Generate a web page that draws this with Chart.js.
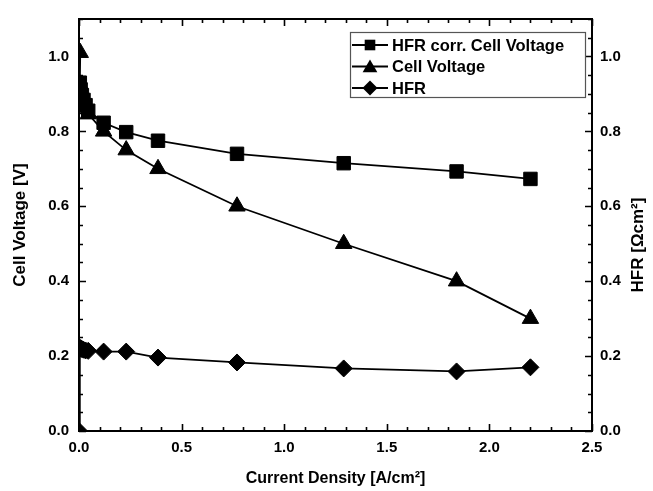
<!DOCTYPE html>
<html><head><meta charset="utf-8">
<script src="https://cdn.jsdelivr.net/npm/chart.js@4.4.0/dist/chart.umd.min.js"></script>
<style>html,body{margin:0;padding:0;background:#fff}#c{display:block}</style>
</head><body>
<canvas id="c" width="653" height="491"></canvas>
<script>
// Current density [A/cm2]
const corrCurrent = [0.004, 0.008, 0.014, 0.022, 0.032, 0.045, 0.12, 0.23, 0.385, 0.77, 1.29, 1.84, 2.2];
const corrVoltage = [0.930, 0.912, 0.897, 0.884, 0.870, 0.855, 0.823, 0.798, 0.775, 0.74, 0.715, 0.693, 0.673];

const cellCurrent = [0.006, 0.004, 0.008, 0.014, 0.022, 0.032, 0.045, 0.12, 0.23, 0.385, 0.77, 1.29, 1.84, 2.2];
const cellVoltage = [1.01, 0.926, 0.908, 0.893, 0.879, 0.864, 0.846, 0.80, 0.75, 0.70, 0.60, 0.50, 0.40, 0.30];

const hfrCurrent = [0.0, 0.004, 0.008, 0.014, 0.022, 0.032, 0.045, 0.12, 0.23, 0.385, 0.77, 1.29, 1.84, 2.2];
const hfrValue   = [0.0, 0.222, 0.221, 0.219, 0.217, 0.215, 0.214, 0.212, 0.212, 0.196, 0.183, 0.167, 0.159, 0.170];

const xTicks = [0.0, 0.5, 1.0, 1.5, 2.0, 2.5];
const yTicks = [0.0, 0.2, 0.4, 0.6, 0.8, 1.0];

const seriesLabels = ['HFR corr. Cell Voltage', 'Cell Voltage', 'HFR'];
const seriesStyles = ['rect', 'triangle', 'rectRot'];

const FONT = '"Liberation Sans", Arial, Helvetica, sans-serif';

function pts(xs, ys){ return xs.map((x,i)=>({x:x, y:ys[i]})); }

function drawMarker(ctx, style, x, y, r){
  ctx.beginPath();
  if (style === 'rect'){
    const s = Math.SQRT1_2 * r;
    ctx.rect(x - s, y - s, 2*s, 2*s);
  } else if (style === 'triangle'){
    let rad = 0;
    ctx.moveTo(x + Math.sin(rad)*r, y - Math.cos(rad)*r);
    rad += 2*Math.PI/3;
    ctx.lineTo(x + Math.sin(rad)*r, y - Math.cos(rad)*r);
    rad += 2*Math.PI/3;
    ctx.lineTo(x + Math.sin(rad)*r, y - Math.cos(rad)*r);
    ctx.closePath();
  } else {
    ctx.moveTo(x - r, y); ctx.lineTo(x, y - r); ctx.lineTo(x + r, y); ctx.lineTo(x, y + r);
    ctx.closePath();
  }
  ctx.fill();
}

const framePlugin = {
  id: 'frame',
  afterDatasetsDraw(chart){
    const ctx = chart.ctx, a = chart.chartArea;
    const xs = chart.scales.x, ys = chart.scales.y;
    ctx.save();
    ctx.strokeStyle = '#000';
    ctx.lineWidth = 2;
    ctx.strokeRect(a.left, a.top, a.right - a.left, a.bottom - a.top);
    ctx.lineWidth = 1.6;
    ctx.beginPath();
    for (let i = 0; i <= 25; i++){
      const v = i / 10;
      const px = Math.round(xs.getPixelForValue(v)) + 0.5;
      const len = (i % 5 === 0) ? 7 : 4;
      ctx.moveTo(px, a.bottom); ctx.lineTo(px, a.bottom - len);
      ctx.moveTo(px, a.top); ctx.lineTo(px, a.top + len);
    }
    for (let i = 0; i <= 22; i++){
      const v = i * 0.05;
      const py = Math.round(ys.getPixelForValue(v)) + 0.5;
      const len = (i % 4 === 0) ? 7 : 4;
      ctx.moveTo(a.left, py); ctx.lineTo(a.left + len, py);
      ctx.moveTo(a.right, py); ctx.lineTo(a.right - len, py);
    }
    ctx.stroke();

    // legend
    const bx = 350, by = 32, bw = 235, bh = 65;
    ctx.fillStyle = '#fff';
    ctx.fillRect(bx, by, bw, bh);
    ctx.lineWidth = 1.2;
    ctx.strokeStyle = '#555';
    ctx.strokeRect(bx + 0.5, by + 0.5, bw, bh);
    const rows = [45, 66.5, 88];
    const radii = [7.5, 8.5, 7.5];
    ctx.font = 'bold 16.5px ' + FONT;
    ctx.textBaseline = 'middle';
    ctx.textAlign = 'left';
    for (let i = 0; i < 3; i++){
      ctx.strokeStyle = '#000'; ctx.fillStyle = '#000';
      ctx.lineWidth = 1.8;
      ctx.beginPath(); ctx.moveTo(352, rows[i]); ctx.lineTo(388, rows[i]); ctx.stroke();
      drawMarker(ctx, seriesStyles[i], 370, rows[i] + (i === 1 ? 1.5 : 0), radii[i]);
      ctx.fillText(seriesLabels[i], 392, rows[i] + 1);
    }

    // right axis title (reads bottom to top)
    ctx.save();
    ctx.translate(638, 245);
    ctx.rotate(-Math.PI/2);
    ctx.textAlign = 'center';
    ctx.textBaseline = 'middle';
    ctx.font = 'bold 17px ' + FONT;
    ctx.fillText('HFR [\u03A9cm\u00B2]', 0, 0);
    ctx.restore();
    ctx.restore();
  }
};

const common = {
  showLine: true,
  borderColor: '#000',
  backgroundColor: '#000',
  pointBackgroundColor: '#000',
  pointBorderColor: '#000',
  borderWidth: 1.8,
  pointBorderWidth: 1,
  tension: 0
};

new Chart(document.getElementById('c'), {
  type: 'scatter',
  data: {
    datasets: [
      Object.assign({}, common, {label: seriesLabels[0], data: pts(corrCurrent, corrVoltage), pointStyle: seriesStyles[0], pointRadius: 9.5, yAxisID: 'y'}),
      Object.assign({}, common, {label: seriesLabels[1], data: pts(cellCurrent, cellVoltage), pointStyle: seriesStyles[1], pointRadius: 9.5, yAxisID: 'y'}),
      Object.assign({}, common, {label: seriesLabels[2], data: pts(hfrCurrent, hfrValue), pointStyle: seriesStyles[2], pointRadius: 8.5, yAxisID: 'y2'})
    ]
  },
  options: {
    responsive: false,
    animation: false,
    devicePixelRatio: 1,
    layout: {padding: {top: 14, left: 0, right: 0, bottom: 0}},
    plugins: {legend: {display: false}, tooltip: {enabled: false}},
    scales: {
      x: {
        type: 'linear', min: 0, max: 2.5,
        afterFit(s){ s.height = 60; },
        afterBuildTicks(s){ s.ticks = xTicks.map(v => ({value: v})); },
        grid: {display: false, drawTicks: false},
        border: {display: false},
        ticks: {padding: 8, color: '#000', font: {family: FONT, size: 15, weight: 'bold'}, callback: v => v.toFixed(1)},
        title: {display: true, text: 'Current Density [A/cm\u00B2]', color: '#000', font: {family: FONT, size: 16, weight: 'bold'}, padding: {top: 0, bottom: 3}}
      },
      y: {
        type: 'linear', position: 'left', min: 0, max: 1.1,
        afterFit(s){ s.width = 79; },
        afterBuildTicks(s){ s.ticks = yTicks.map(v => ({value: v})); },
        grid: {display: false, drawTicks: false},
        border: {display: false},
        ticks: {padding: 10, color: '#000', font: {family: FONT, size: 15, weight: 'bold'}, callback: v => v.toFixed(1)},
        title: {display: true, text: 'Cell Voltage [V]', color: '#000', font: {family: FONT, size: 17, weight: 'bold'}, padding: {top: 10, bottom: 0}}
      },
      y2: {
        type: 'linear', position: 'right', min: 0, max: 1.1,
        afterFit(s){ s.width = 61; },
        afterBuildTicks(s){ s.ticks = yTicks.map(v => ({value: v})); },
        grid: {display: false, drawTicks: false},
        border: {display: false},
        ticks: {padding: 8, color: '#000', font: {family: FONT, size: 15, weight: 'bold'}, callback: v => v.toFixed(1)}
      }
    }
  },
  plugins: [framePlugin]
});
</script>
</body></html>
